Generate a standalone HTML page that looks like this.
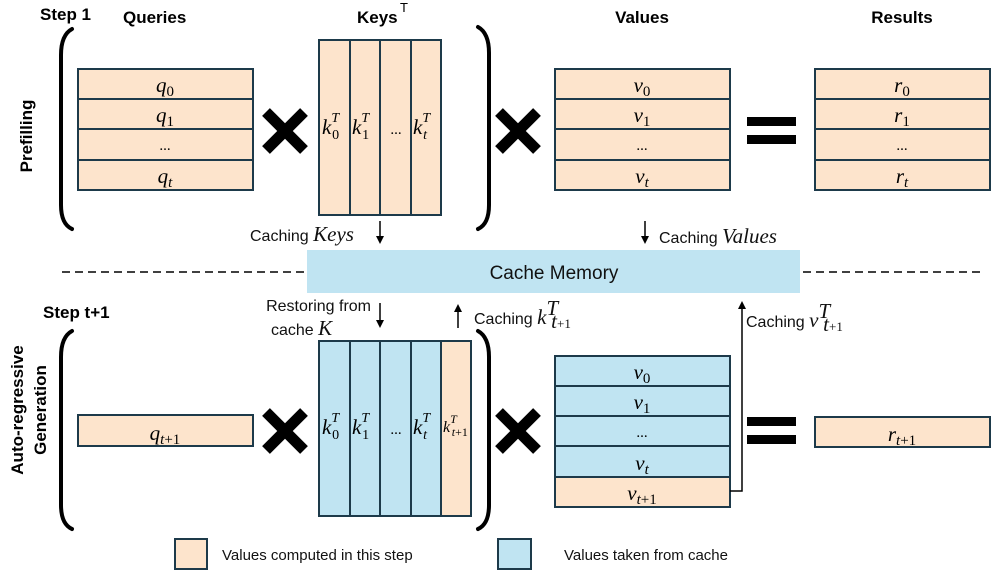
<!DOCTYPE html>
<html><head><meta charset="utf-8"><style>
html,body{margin:0;padding:0;background:#fff;}
svg{display:block;}
.s{font-family:"Liberation Sans",sans-serif;}
.m{font-family:"Liberation Serif",serif;font-style:italic;font-size:21px;}
.b{font-family:"Liberation Sans",sans-serif;font-weight:bold;font-size:17px;}
</style></head><body>
<svg width="996" height="572" viewBox="0 0 996 572" xmlns="http://www.w3.org/2000/svg">
<defs>
<marker id="ah" markerWidth="8" markerHeight="8" refX="4" refY="4" orient="auto" markerUnits="userSpaceOnUse"><path d="M0,0 L8,4 L0,8 z" fill="#000"/></marker>
</defs>
<g fill="none" stroke="#000" stroke-width="4" stroke-linecap="round">
<path d="M72,29 Q61,35 61,55 L61,205 Q61,224 72,229"/>
<path d="M478,27 Q489,33 489,53 L489,205 Q489,224 478,229"/>
<path d="M72,331 Q61,337 61,357 L61,505 Q61,524 72,529"/>
<path d="M478,331 Q489,337 489,357 L489,505 Q489,524 478,529"/>
</g>
<text class="b" x="40" y="20">Step 1</text>
<text class="b" x="123" y="23">Queries</text>
<text class="b" x="357" y="23">Keys</text><text class="s" x="400" y="12" font-size="13">T</text>
<text class="b" x="642" y="23" text-anchor="middle">Values</text>
<text class="b" x="902" y="23" text-anchor="middle">Results</text>
<text class="b" x="43" y="318">Step t+1</text>
<text class="b" transform="translate(32,136) rotate(-90)" text-anchor="middle">Prefilling</text>
<text class="b" transform="translate(23,410) rotate(-90)" text-anchor="middle">Auto-regressive</text>
<text class="b" transform="translate(46,410) rotate(-90)" text-anchor="middle">Generation</text>

<g stroke="#1d3a4a" stroke-width="2">
<rect x="78" y="69" width="175" height="121" fill="#fde4cc"/>
<line x1="78" y1="99" x2="253" y2="99"/><line x1="78" y1="129" x2="253" y2="129"/><line x1="78" y1="160" x2="253" y2="160"/>
<rect x="319" y="40" width="122" height="175" fill="#fde4cc"/>
<line x1="350" y1="40" x2="350" y2="215"/><line x1="380" y1="40" x2="380" y2="215"/><line x1="411" y1="40" x2="411" y2="215"/>
<rect x="555" y="69" width="175" height="121" fill="#fde4cc"/>
<line x1="555" y1="99" x2="730" y2="99"/><line x1="555" y1="129" x2="730" y2="129"/><line x1="555" y1="160" x2="730" y2="160"/>
<rect x="815" y="69" width="175" height="121" fill="#fde4cc"/>
<line x1="815" y1="99" x2="990" y2="99"/><line x1="815" y1="129" x2="990" y2="129"/><line x1="815" y1="160" x2="990" y2="160"/>
<rect x="78" y="415" width="175" height="31" fill="#fde4cc"/>
<rect x="319" y="341" width="122" height="175" fill="#c0e4f2"/>
<rect x="441" y="341" width="30" height="175" fill="#fde4cc"/>
<line x1="350" y1="341" x2="350" y2="516"/><line x1="380" y1="341" x2="380" y2="516"/><line x1="411" y1="341" x2="411" y2="516"/>
<rect x="555" y="356" width="175" height="121" fill="#c0e4f2"/>
<rect x="555" y="477" width="175" height="30" fill="#fde4cc"/>
<line x1="555" y1="386" x2="730" y2="386"/><line x1="555" y1="416" x2="730" y2="416"/><line x1="555" y1="446" x2="730" y2="446"/>
<rect x="815" y="417" width="175" height="30" fill="#fde4cc"/>
<rect x="175" y="539" width="32" height="30" fill="#fde4cc"/>
<rect x="498" y="539" width="33" height="30" fill="#c0e4f2"/>
</g>
<g stroke="#000" stroke-width="11">
<line x1="266" y1="112" x2="304" y2="150"/><line x1="304" y1="112" x2="266" y2="150"/>
<line x1="266" y1="412" x2="304" y2="450"/><line x1="304" y1="412" x2="266" y2="450"/>
<line x1="499" y1="112" x2="537" y2="150"/><line x1="537" y1="112" x2="499" y2="150"/>
<line x1="499" y1="412" x2="537" y2="450"/><line x1="537" y1="412" x2="499" y2="450"/>
</g>
<g fill="#000">
<rect x="747" y="117" width="49" height="9"/><rect x="747" y="135" width="49" height="9"/>
<rect x="747" y="417" width="49" height="9"/><rect x="747" y="435" width="49" height="9"/>
</g>
<g class="m" text-anchor="middle">
<text x="165" y="92">q<tspan font-size="15" dy="4" font-style="normal">0</tspan></text>
<text x="165" y="122">q<tspan font-size="15" dy="4" font-style="normal">1</tspan></text>
<text x="165" y="150" font-style="normal" font-size="15">...</text>
<text x="165" y="183">q<tspan font-size="15" dy="4">t</tspan></text>
<text x="642" y="92">v<tspan font-size="15" dy="4" font-style="normal">0</tspan></text>
<text x="642" y="122">v<tspan font-size="15" dy="4" font-style="normal">1</tspan></text>
<text x="642" y="150" font-style="normal" font-size="15">...</text>
<text x="642" y="183">v<tspan font-size="15" dy="4">t</tspan></text>
<text x="902" y="92">r<tspan font-size="15" dy="4" font-style="normal">0</tspan></text>
<text x="902" y="122">r<tspan font-size="15" dy="4" font-style="normal">1</tspan></text>
<text x="902" y="150" font-style="normal" font-size="15">...</text>
<text x="902" y="183">r<tspan font-size="15" dy="4">t</tspan></text>
<text x="165" y="440">q<tspan font-size="15" dy="4">t</tspan><tspan font-size="15" font-style="normal">+1</tspan></text>
<text x="902" y="441">r<tspan font-size="15" dy="4">t</tspan><tspan font-size="15" font-style="normal">+1</tspan></text>
<text x="642" y="379">v<tspan font-size="15" dy="4" font-style="normal">0</tspan></text>
<text x="642" y="409">v<tspan font-size="15" dy="4" font-style="normal">1</tspan></text>
<text x="642" y="437" font-style="normal" font-size="15">...</text>
<text x="642" y="470">v<tspan font-size="15" dy="4">t</tspan></text>
<text x="642" y="500">v<tspan font-size="15" dy="4">t</tspan><tspan font-size="15" font-style="normal">+1</tspan></text>
<text x="396" y="134" font-style="normal" font-size="15">...</text>
<text x="396" y="434" font-style="normal" font-size="15">...</text>
</g>
<g class="m">
<text x="322" y="134">k<tspan font-size="14" dy="-12">T</tspan><tspan font-size="14" dx="-7" dy="17" font-style="normal">0</tspan></text>
<text x="352" y="134">k<tspan font-size="14" dy="-12">T</tspan><tspan font-size="14" dx="-7" dy="17" font-style="normal">1</tspan></text>
<text x="413" y="134">k<tspan font-size="14" dy="-12">T</tspan><tspan font-size="14" dx="-7" dy="17">t</tspan></text>
<text x="322" y="434">k<tspan font-size="14" dy="-12">T</tspan><tspan font-size="14" dx="-7" dy="17" font-style="normal">0</tspan></text>
<text x="352" y="434">k<tspan font-size="14" dy="-12">T</tspan><tspan font-size="14" dx="-7" dy="17" font-style="normal">1</tspan></text>
<text x="413" y="434">k<tspan font-size="14" dy="-12">T</tspan><tspan font-size="14" dx="-7" dy="17">t</tspan></text>
<text x="443" y="432" font-size="16">k<tspan font-size="12" dy="-9">T</tspan><tspan font-size="12" dx="-5" dy="13">t</tspan><tspan font-size="12" font-style="normal">+1</tspan></text>
</g>
<rect x="307" y="250" width="493" height="43" fill="#c0e4f2"/>
<text class="s" x="554" y="279" font-size="19" text-anchor="middle" fill="#111">Cache Memory</text>
<g stroke="#000" stroke-width="1.5" stroke-dasharray="8,5">
<line x1="62" y1="272" x2="306" y2="272"/><line x1="803" y1="272" x2="985" y2="272"/>
</g>
<g stroke="#000" stroke-width="1.5" fill="none">
<line x1="380" y1="221" x2="380" y2="240" marker-end="url(#ah)"/>
<line x1="645" y1="221" x2="645" y2="240" marker-end="url(#ah)"/>
<line x1="380" y1="303" x2="380" y2="324" marker-end="url(#ah)"/>
<line x1="458" y1="328" x2="458" y2="308" marker-end="url(#ah)"/>
<polyline points="730,491 742,491 742,305" marker-end="url(#ah)"/>
</g>
<g class="s" font-size="16" fill="#111">
<text x="250" y="241">Caching <tspan class="m" font-size="19">Keys</tspan></text>
<text x="659" y="243">Caching <tspan class="m" font-size="19">Values</tspan></text>
<text x="371" y="311" text-anchor="end">Restoring from</text>
<text x="271" y="335">cache <tspan class="m" font-size="19">K</tspan></text>
<text x="474" y="324">Caching <tspan class="m" font-size="19">k</tspan><tspan class="m" font-size="13" dy="-9">T</tspan><tspan class="m" font-size="13" dx="-7" dy="13">t</tspan><tspan font-size="13" font-family="Liberation Serif">+1</tspan></text>
<text x="746" y="327">Caching <tspan class="m" font-size="19">v</tspan><tspan class="m" font-size="13" dy="-9">T</tspan><tspan class="m" font-size="13" dx="-7" dy="13">t</tspan><tspan font-size="13" font-family="Liberation Serif">+1</tspan></text>
<text x="222" y="560" font-size="15">Values computed in this step</text>
<text x="564" y="560" font-size="15">Values taken from cache</text>
</g>
</svg>
</body></html>
